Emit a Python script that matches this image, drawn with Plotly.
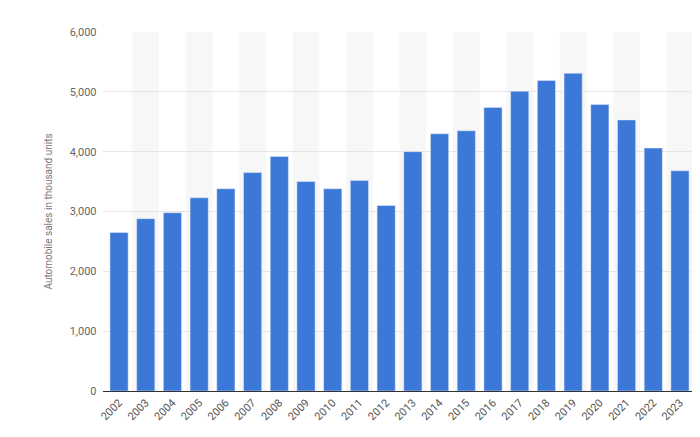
import plotly.graph_objects as go

years = [str(y) for y in range(2002, 2024)]
sales = [2650, 2880, 2980, 3230, 3380, 3650, 3920, 3500, 3380, 3520, 3100,
         4000, 4300, 4350, 4740, 5010, 5190, 5310, 4790, 4530, 4060, 3680]

fig = go.Figure()
fig.add_bar(x=years, y=sales, marker_color='#3c78d8', width=0.68)

# bandas cinza alternadas
shapes = []
for i in range(1, len(years), 2):
    shapes.append(dict(type='rect', xref='x', yref='paper', x0=i - 0.5, x1=i + 0.5,
                       y0=0, y1=1, fillcolor='#f7f7f7', line_width=0, layer='below'))

fig.update_layout(
    width=700, height=437,
    margin=dict(l=95, r=12, t=24, b=54),
    plot_bgcolor='white', paper_bgcolor='white',
    shapes=shapes,
    showlegend=False,
    font=dict(family='Roboto', color='#666', size=11),
    xaxis=dict(tickangle=-45, showgrid=False, showline=True, linecolor='#333',
               tickfont=dict(size=11, color='#555'), range=[-0.6, 21.6]),
    yaxis=dict(range=[0, 6000], dtick=1000, tickformat=',', gridcolor='#e6e6e6',
               zeroline=False, ticksuffix='  ',
               title=dict(text='Automobile sales in thousand units', font=dict(size=10, color='#777'))),
)

fig.write_html("out.html")
